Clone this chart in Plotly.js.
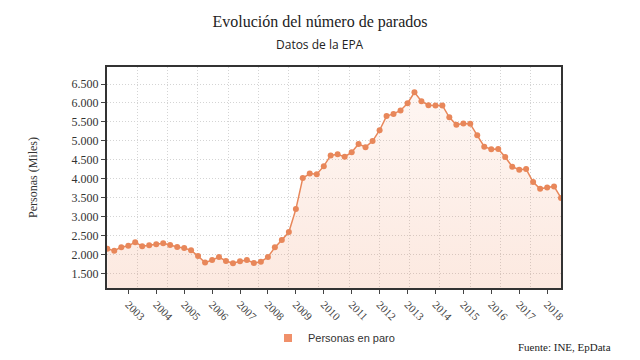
<!DOCTYPE html>
<html>
<head>
<meta charset="utf-8">
<script src="https://cdn.plot.ly/plotly-3.0.1.min.js"></script>
<style>html,body{margin:0;padding:0;background:#fff}#chart{width:640px;height:360px}</style>
</head>
<body>
<div id="chart"></div>
<script>
// Quarter-end dates (EPA, 2002T1 - 2018T2)
const fechas = [
  '2002-03-31','2002-06-30','2002-09-30','2002-12-31',
  '2003-03-31','2003-06-30','2003-09-30','2003-12-31',
  '2004-03-31','2004-06-30','2004-09-30','2004-12-31',
  '2005-03-31','2005-06-30','2005-09-30','2005-12-31',
  '2006-03-31','2006-06-30','2006-09-30','2006-12-31',
  '2007-03-31','2007-06-30','2007-09-30','2007-12-31',
  '2008-03-31','2008-06-30','2008-09-30','2008-12-31',
  '2009-03-31','2009-06-30','2009-09-30','2009-12-31',
  '2010-03-31','2010-06-30','2010-09-30','2010-12-31',
  '2011-03-31','2011-06-30','2011-09-30','2011-12-31',
  '2012-03-31','2012-06-30','2012-09-30','2012-12-31',
  '2013-03-31','2013-06-30','2013-09-30','2013-12-31',
  '2014-03-31','2014-06-30','2014-09-30','2014-12-31',
  '2015-03-31','2015-06-30','2015-09-30','2015-12-31',
  '2016-03-31','2016-06-30','2016-09-30','2016-12-31',
  '2017-03-31','2017-06-30','2017-09-30','2017-12-31',
  '2018-03-31','2018-06-30'
];
// Personas en paro (miles)
const parados = [
  2155, 2104, 2200, 2235,
  2330, 2222, 2252, 2279,
  2305, 2255, 2203, 2176,
  2116, 1966, 1792, 1860,
  1940, 1834, 1775, 1826,
  1860, 1782, 1817, 1940,
  2194, 2387, 2597, 3202,
  4020, 4140, 4122, 4335,
  4617, 4650, 4580, 4703,
  4918, 4836, 4995, 5282,
  5655, 5712, 5802, 5995,
  6280, 6046, 5941, 5932,
  5936, 5622, 5427, 5461,
  5449, 5148, 4849, 4779,
  4789, 4575, 4321, 4239,
  4258, 3916, 3736, 3772,
  3800, 3497
];
const serieNombre = 'Personas en paro';
const titulo = 'Evolución del número de parados';
const subtitulo = 'Datos de la EPA';
const fuente = 'Fuente: INE, EpData';
const tituloY = 'Personas (Miles)';

const naranja = '#e8875a';
const serif = '"Liberation Serif", "Times New Roman", serif';
const sans = '"Liberation Sans", Arial, sans-serif';
const gridDots = '1px,2px';

const traces = [
  // carrier for the evenly spaced vertical grid (no visible marks)
  {
    type: 'scatter', mode: 'markers', x: [null], y: [null],
    xaxis: 'x2', yaxis: 'y', showlegend: false, hoverinfo: 'skip'
  },
  {
    type: 'scatter', mode: 'lines+markers',
    x: fechas, y: parados,
    line: {color: naranja, width: 1.5},
    marker: {color: naranja, size: 6},
    fill: 'tozeroy',
    fillgradient: {
      type: 'vertical',
      colorscale: [[0, 'rgba(240,130,80,0.20)'], [1, 'rgba(240,130,80,0.07)']]
    },
    showlegend: false,
    hoverinfo: 'x+y'
  },
  {
    type: 'scatter', mode: 'markers',
    x: [null], y: [null],
    name: serieNombre,
    marker: {color: '#f0906a', size: 8, symbol: 'square'},
    showlegend: true
  }
];

const layout = {
  width: 640, height: 360,
  margin: {l: 107, r: 79, t: 67, b: 72},
  paper_bgcolor: '#fff', plot_bgcolor: '#fff',
  separators: ',.',
  title: {
    text: titulo,
    font: {family: serif, size: 16, color: '#222'},
    x: 0.5, xanchor: 'center',
    yref: 'container', y: 1 - 21/360, yanchor: 'middle'
  },
  xaxis: {
    type: 'date',
    range: ['2002-03-27', '2018-06-30'],
    tick0: '2003-01-01', dtick: 'M12', tickformat: '%Y',
    tickangle: 45,
    ticks: 'outside', ticklen: 4, tickcolor: '#444', tickwidth: 1,
    tickfont: {family: serif, size: 11, color: '#444'},
    showgrid: false, zeroline: false,
    showline: true, linecolor: '#333', linewidth: 2, mirror: true
  },
  xaxis2: {
    overlaying: 'x', anchor: 'y', side: 'bottom',
    range: [0, 15], dtick: 1, tick0: 0,
    showgrid: true, gridcolor: '#d4d4d4', griddash: gridDots, gridwidth: 1,
    showticklabels: false, ticks: '', zeroline: false, showline: false,
    fixedrange: true
  },
  yaxis: {
    range: [1123, 6948],
    tick0: 1500, dtick: 500,
    tickformat: ',d',
    ticks: 'outside', ticklen: 4, tickcolor: '#444', tickwidth: 1,
    tickfont: {family: serif, size: 12, color: '#333'},
    showgrid: true, gridcolor: '#d4d4d4', griddash: gridDots, gridwidth: 1,
    zeroline: false,
    showline: true, linecolor: '#333', linewidth: 2, mirror: true,
    title: {text: tituloY, font: {family: serif, size: 12, color: '#333'}, standoff: 31}
  },
  showlegend: true,
  legend: {
    orientation: 'h',
    x: 0.5, xanchor: 'center',
    y: 1 - 338/360, yref: 'container', yanchor: 'middle',
    font: {family: sans, size: 11, color: '#333'},
    itemwidth: 20
  },
  annotations: [
    {
      text: subtitulo, showarrow: false,
      xref: 'paper', x: (320 - 107) / 454, xanchor: 'center',
      yref: 'paper', y: (288 - 45) / 221, yanchor: 'middle',
      font: {family: '"Open Sans", "Noto Sans", sans-serif', size: 12, color: '#222'}
    },
    {
      text: fuente, showarrow: false,
      xref: 'paper', x: (613 - 107) / 454, xanchor: 'right',
      yref: 'paper', y: (288 - 347) / 221, yanchor: 'middle',
      font: {family: serif, size: 11, color: '#222'}
    }
  ]
};

Plotly.newPlot('chart', traces, layout, {displayModeBar: false, staticPlot: true});
</script>
</body>
</html>
